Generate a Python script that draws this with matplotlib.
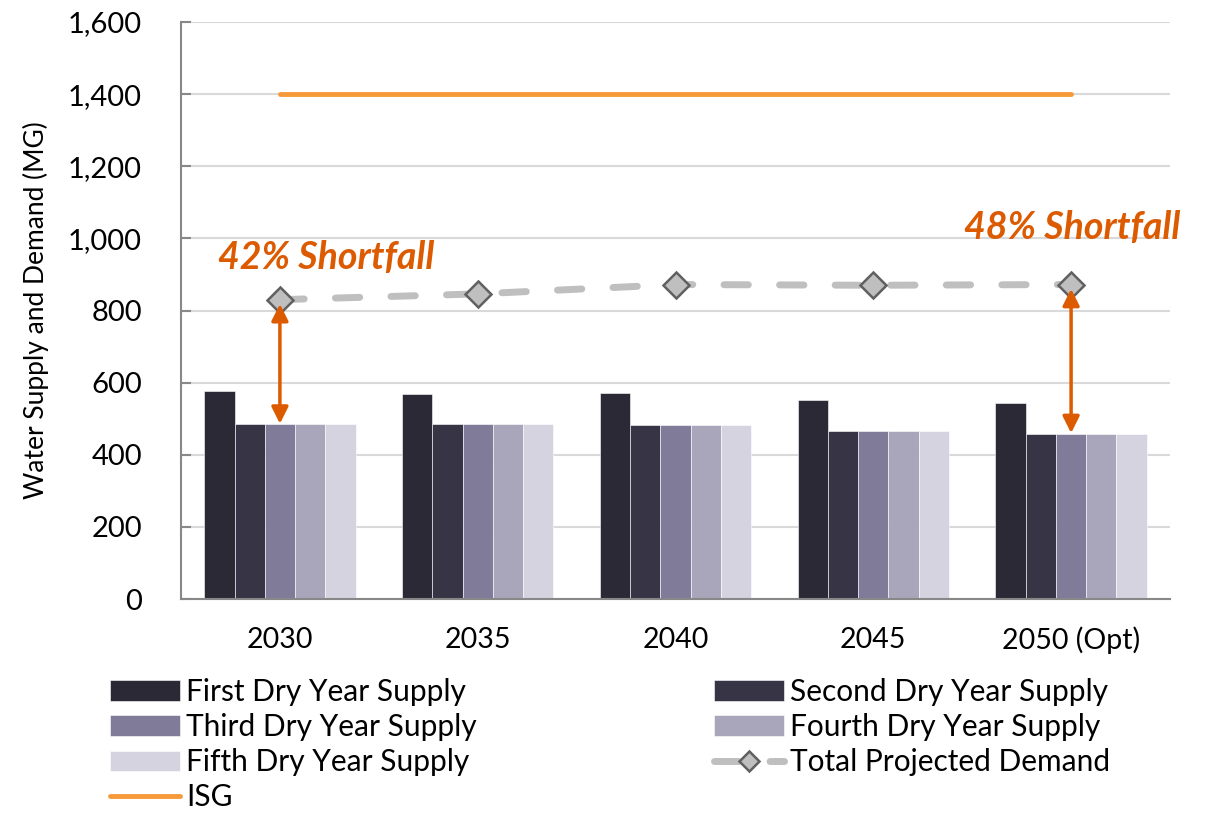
import matplotlib.pyplot as plt
import numpy as np

# ------------------------------------------------------------
# Data (MG)
# ------------------------------------------------------------
years = ['2030', '2035', '2040', '2045', '2050 (Opt)']
first_dry = [576, 569, 570, 551, 543]
second_dry = [484, 486, 482, 465, 458]
third_dry = [484, 486, 482, 465, 458]
fourth_dry = [484, 486, 482, 465, 458]
fifth_dry = [484, 486, 482, 465, 458]
total_demand = [830, 846, 872, 870, 872]
isg = [1400, 1400, 1400, 1400, 1400]

supply_labels = ['First Dry Year Supply', 'Second Dry Year Supply', 'Third Dry Year Supply',
                 'Fourth Dry Year Supply', 'Fifth Dry Year Supply']
supply_colors = ['#2b2935', '#373445', '#7f7b99', '#a9a6bb', '#d5d3df']
shortfall_text = ['42% Shortfall', '48% Shortfall']

plt.rcParams['font.family'] = ['Lato', 'DejaVu Sans']

fig = plt.figure(figsize=(12.09, 8.15), dpi=100)
ax = fig.add_axes([181 / 1209, 1 - 599 / 815, (1170 - 181) / 1209, (599 - 22) / 815])

x = np.arange(len(years))
bw = 0.153
series = [first_dry, second_dry, third_dry, fourth_dry, fifth_dry]
handles = []
for i, (vals, lab, col) in enumerate(zip(series, supply_labels, supply_colors)):
    h = ax.bar(x + (i - 2) * bw, vals, width=bw, color=col, label=lab,
               edgecolor='#ffffff', linewidth=0.4, zorder=2)
    handles.append(h)

dem, = ax.plot(x, total_demand, color='#bfbfbf', lw=5, dashes=(3.5, 4.5),
               dash_capstyle='round', marker='D', markersize=13,
               markerfacecolor='#bfbfbf', markeredgecolor='#606060', markeredgewidth=1.8,
               label='Total Projected Demand', zorder=4)
isg_line, = ax.plot(x, isg, color='#f79a3a', lw=3.5, solid_capstyle='round', label='ISG', zorder=3)

# shortfall arrows from third dry year bar top to demand
orange = '#dc5a00'
for idx, txt, tx, ty in [(0, shortfall_text[0], -0.313, 947), (4, shortfall_text[1], 3.46, 1030)]:
    ax.annotate('', xy=(x[idx], total_demand[idx] - 12), xytext=(x[idx], third_dry[idx] + 2),
                arrowprops=dict(arrowstyle='<|-|>', color=orange, lw=2.5,
                                mutation_scale=25, shrinkA=0, shrinkB=0), zorder=5)
    ax.text(tx, ty, txt, color=orange, fontsize=27, fontweight='bold', fontstyle='italic',
            ha='left', va='center')

ax.set_xlim(-0.5, 4.5)
ax.set_ylim(0, 1600)
ax.set_yticks(np.arange(0, 1601, 200))
ax.set_yticklabels([f'{v:,}' for v in range(0, 1601, 200)], fontsize=21)
ax.set_xticks(x)
ax.set_xticklabels(years, fontsize=20.5)
ax.tick_params(axis='x', length=0, pad=20)
ax.tick_params(axis='y', direction='in', length=7, width=1.5, color='#888888', pad=28)
ax.set_ylabel('Water Supply and Demand (MG)', fontsize=19, labelpad=14)
ax.yaxis.grid(True, color='#d9d9d9', lw=1.5, zorder=0)
ax.set_axisbelow(True)
for s in ['top', 'right']:
    ax.spines[s].set_visible(False)
ax.spines['left'].set_color('#888888')
ax.spines['bottom'].set_color('#888888')
ax.spines['left'].set_linewidth(1.5)
ax.spines['bottom'].set_linewidth(1.5)

order = [handles[0], handles[2], handles[4], isg_line, handles[1], handles[3], dem]
fig.legend(order, [h.get_label() for h in order], ncol=2, loc='upper left',
           bbox_to_anchor=(98 / 1209, 1 - 666 / 815), frameon=False, fontsize=21.5,
           handlelength=2.35, handleheight=0.67, handletextpad=0.2, markerscale=0.75,
           columnspacing=7.95, labelspacing=0.24, borderaxespad=0)

fig.savefig('out.png', dpi=100)
